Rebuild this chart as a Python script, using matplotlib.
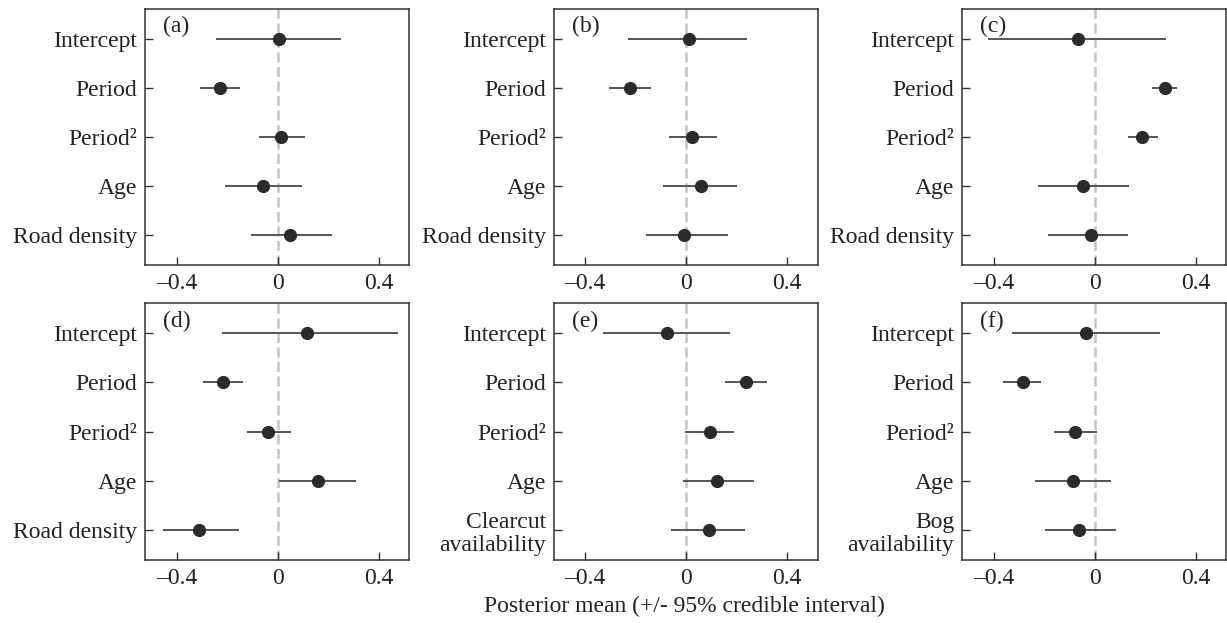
import numpy as np
import matplotlib.pyplot as plt

plt.rcParams['font.family'] = ['Liberation Serif', 'DejaVu Serif']

# covariate labels per panel
base_terms = ['Intercept', 'Period', 'Period\u00b2', 'Age']
last_terms = ['Road density', 'Road density', 'Road density', 'Road density',
              'Clearcut\navailability', 'Bog\navailability']
panel_tags = ['(a)', '(b)', '(c)', '(d)', '(e)', '(f)']

# posterior means, lower and upper 95% CI (Intercept, Period, Period2, Age, last)
means = [
    [0.007, -0.228, 0.013, -0.056, 0.049],
    [0.011, -0.221, 0.025, 0.058, -0.009],
    [-0.064, 0.279, 0.189, -0.046, -0.015],
    [0.118, -0.217, -0.037, 0.160, -0.311],
    [-0.077, 0.235, 0.093, 0.124, 0.090],
    [-0.033, -0.283, -0.077, -0.085, -0.060],
]
lower = [
    [-0.242, -0.307, -0.075, -0.208, -0.107],
    [-0.231, -0.306, -0.069, -0.091, -0.160],
    [-0.423, 0.228, 0.131, -0.224, -0.184],
    [-0.222, -0.295, -0.123, 0.005, -0.455],
    [-0.328, 0.152, -0.003, -0.013, -0.061],
    [-0.327, -0.363, -0.162, -0.238, -0.196],
]
upper = [
    [0.250, -0.147, 0.107, 0.095, 0.214],
    [0.241, -0.140, 0.122, 0.202, 0.164],
    [0.282, 0.328, 0.249, 0.136, 0.134],
    [0.475, -0.139, 0.054, 0.310, -0.152],
    [0.172, 0.320, 0.188, 0.267, 0.233],
    [0.257, -0.212, 0.011, 0.064, 0.083],
]

W, H = 1227, 623
fig = plt.figure(figsize=(W / 100, H / 100), dpi=100)

col_left = [145, 553.5, 962]
ax_w = 264
rows = [(9, 265), (303, 560)]

txt = '#222222'
fs = 17
for i in range(6):
    r, c = divmod(i, 3)
    top, bot = rows[r]
    ax = fig.add_axes([col_left[c] / W, 1 - bot / H, ax_w / W, (bot - top) / H])

    terms = base_terms + [last_terms[i]]
    y = np.arange(len(terms))
    m = np.array(means[i])
    lo = np.array(lower[i])
    hi = np.array(upper[i])

    ax.axvline(0, color='#c4c4c4', ls=(0, (4, 1.8)), lw=1.8, zorder=1)
    ax.hlines(y, lo, hi, color='#555555', lw=1.4, zorder=2)
    ax.plot(m, y, 'o', color='#2b2b2b', ms=8.5, zorder=3)

    ax.set_xlim(-0.525, 0.52)
    ax.set_ylim(4.6, -0.6)
    ax.set_xticks([-0.4, 0, 0.4])
    ax.set_xticklabels(['\u20130.4', '0', '0.4'])
    ax.set_yticks(y)
    ax.set_yticklabels(terms, linespacing=1.12)
    ax.tick_params(direction='in', length=6, width=1, colors='#333333',
                   labelsize=fs, labelcolor=txt)
    ax.tick_params(axis='y', pad=5.5)
    ax.tick_params(axis='x', pad=5.5)
    for sp in ax.spines.values():
        sp.set_color('#333333')
        sp.set_linewidth(1.1)

    ax.text(0.07, 0.93, panel_tags[i], transform=ax.transAxes, fontsize=fs,
            color=txt, ha='left', va='center')

fig.text(684 / W, 1 - 606 / H, 'Posterior mean (+/- 95% credible interval)',
         ha='center', va='center', fontsize=fs, color=txt)

fig.savefig('out.png', dpi=100)
